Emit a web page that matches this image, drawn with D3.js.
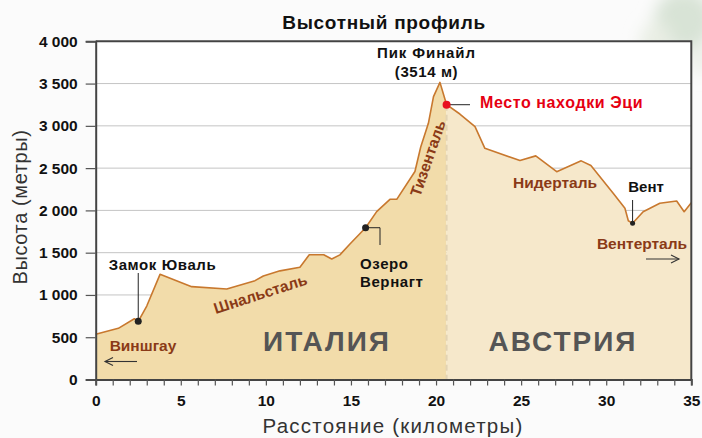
<!DOCTYPE html>
<html>
<head>
<meta charset="utf-8">
<script src="https://cdn.jsdelivr.net/npm/d3@7"></script>
<style>
  html, body { margin: 0; padding: 0; background: #fbfbfb; }
  svg { display: block; }
</style>
</head>
<body>
<svg id="chart" width="702" height="438"></svg>
<script>
// Elevation profile, Vinschgau -> Vent (km, metres)
const distanceKm = [0, 1.33, 2.27, 2.5, 3.0, 3.78, 5.64, 7.7, 9.36, 9.85, 10.83, 12.0, 12.55, 13.4, 13.87, 14.35, 14.94, 15.86, 16.51, 17.29, 17.69, 18.76, 19.1, 19.55, 19.85, 20.23, 20.62, 21.4, 22.29, 22.87, 24.93, 25.86, 27.09, 28.53, 29.1, 30.41, 31.1, 31.3, 31.55, 32.17, 33.15, 34.14, 34.58, 35];
const elevationM = [535, 605, 719, 688, 869, 1244, 1098, 1070, 1169, 1224, 1285, 1327, 1476, 1476, 1425, 1474, 1602, 1795, 1985, 2131, 2131, 2460, 2750, 3030, 3345, 3514, 3250, 3140, 2990, 2734, 2590, 2645, 2458, 2586, 2530, 2202, 2025, 1878, 1847, 1985, 2084, 2111, 1985, 2090];

// Border between Italy and Austria (km)
const borderKm = 20.62;

// Axis ticks
const yTickValues = [0, 500, 1000, 1500, 2000, 2500, 3000, 3500, 4000];
const yTickLabels = ["0", "500", "1 000", "1 500", "2 000", "2 500", "3 000", "3 500", "4 000"];
const xTickValues = [0, 5, 10, 15, 20, 25, 30, 35];
const xTickLabels = ["0", "5", "10", "15", "20", "25", "30", "35"];

// Point landmarks on the profile
const landmarkNames = ["Замок Юваль", "Озеро Вернагт", "Место находки Эци", "Вент"];
const landmarkKm = [2.5, 15.86, 20.62, 31.55];
const landmarkM = [688, 1795, 3250, 1847];

const font = "'Liberation Sans', Arial, sans-serif";
const brown = "#8a3a17";

const svg = d3.select("#chart");
const W = 702, H = 438;
const margin = { top: 41.3, right: 10.7, bottom: 58.5, left: 95.7 };

const x = d3.scaleLinear().domain([0, 35]).range([margin.left, W - margin.right]);
const y = d3.scaleLinear().domain([0, 4000]).range([H - margin.bottom, margin.top]);

const profile = distanceKm.map((d, i) => ({ km: d, m: elevationM[i] }));

// soft greenery in the top-right corner
const defs = svg.append("defs");
defs.append("filter").attr("id", "soft")
  .attr("x", "-50%").attr("y", "-50%").attr("width", "200%").attr("height", "200%")
  .append("feGaussianBlur").attr("stdDeviation", 8);
const blob = svg.append("g").attr("filter", "url(#soft)");
blob.append("ellipse").attr("cx", 684).attr("cy", 20).attr("rx", 30).attr("ry", 30).attr("fill", "#d8e3d6");
blob.append("ellipse").attr("cx", 656).attr("cy", 42).attr("rx", 16).attr("ry", 20).attr("fill", "#e9eee4");
blob.append("ellipse").attr("cx", 700).attr("cy", 60).attr("rx", 10).attr("ry", 14).attr("fill", "#eaeee6");

// plot background
svg.append("rect")
  .attr("x", margin.left).attr("y", margin.top)
  .attr("width", x(35) - x(0)).attr("height", y(0) - y(4000))
  .attr("fill", "#ffffff");

// gridlines
svg.append("g")
  .selectAll("line").data(yTickValues.slice(1, -1)).join("line")
  .attr("x1", x(0)).attr("x2", x(35))
  .attr("y1", d => y(d)).attr("y2", d => y(d))
  .attr("stroke", "#c4c4c4").attr("stroke-width", 1);

// filled terrain, split at the border
const area = d3.area().x(d => x(d.km)).y0(y(0)).y1(d => y(d.m));
defs.append("clipPath").attr("id", "clip-it").append("rect")
  .attr("x", x(0)).attr("y", 0).attr("width", x(borderKm) - x(0)).attr("height", H);
defs.append("clipPath").attr("id", "clip-at").append("rect")
  .attr("x", x(borderKm)).attr("y", 0).attr("width", x(35) - x(borderKm)).attr("height", H);

svg.append("path").datum(profile).attr("d", area)
  .attr("fill", "#f2dcaa").attr("clip-path", "url(#clip-it)");
svg.append("path").datum(profile).attr("d", area)
  .attr("fill", "#f6e8cb").attr("clip-path", "url(#clip-at)");

// border dashes
svg.append("line")
  .attr("x1", x(borderKm)).attr("x2", x(borderKm))
  .attr("y1", y(landmarkM[2])).attr("y2", y(0))
  .attr("stroke", "#e3d3b3").attr("stroke-width", 2).attr("stroke-dasharray", "6,4");

// profile line
svg.append("path").datum(profile)
  .attr("d", d3.line().x(d => x(d.km)).y(d => y(d.m)))
  .attr("fill", "none").attr("stroke", "#c8782e").attr("stroke-width", 1.6)
  .attr("stroke-linejoin", "round");

// frame: top and right edges
svg.append("path")
  .attr("d", `M${x(0)},${y(4000)}H${x(35)}V${y(0)}`)
  .attr("fill", "none").attr("stroke", "#444").attr("stroke-width", 2);

// y axis
const yAxis = svg.append("g").attr("transform", `translate(${x(0)},0)`)
  .call(d3.axisLeft(y).tickValues(yTickValues).tickSize(10).tickPadding(8)
    .tickFormat((d, i) => yTickLabels[i]));
yAxis.select(".domain").attr("stroke", "#444").attr("stroke-width", 2);
yAxis.selectAll(".tick line").attr("stroke", "#555").attr("stroke-width", 1.2);
yAxis.selectAll(".tick text").attr("font-family", font).attr("font-weight", "bold")
  .attr("font-size", 15.5).attr("fill", "#111");

// x axis: minor ticks every km, labels every 5 km
const xAxis = svg.append("g").attr("transform", `translate(0,${y(0)})`)
  .call(d3.axisBottom(x).tickValues(d3.range(0, 36, 1)).tickSize(6).tickPadding(6)
    .tickFormat(d => { const i = xTickValues.indexOf(d); return i >= 0 ? xTickLabels[i] : ""; }));
xAxis.select(".domain").attr("stroke", "#444").attr("stroke-width", 2);
xAxis.selectAll(".tick line").attr("stroke", "#555").attr("stroke-width", 1.2);
xAxis.selectAll(".tick text").attr("font-family", font).attr("font-weight", "bold")
  .attr("font-size", 15.5).attr("fill", "#111").attr("dy", "0.95em");

// titles
svg.append("text").attr("x", 384).attr("y", 29).attr("text-anchor", "middle")
  .attr("font-family", font).attr("font-weight", "bold").attr("font-size", 19)
  .attr("letter-spacing", 0.7).attr("fill", "#111")
  .text("Высотный профиль");
svg.append("text").attr("x", 393).attr("y", 433).attr("text-anchor", "middle")
  .attr("font-family", font).attr("font-size", 20.5).attr("letter-spacing", 1.2).attr("fill", "#333")
  .text("Расстояние (километры)");
svg.append("text").attr("transform", "translate(27,207) rotate(-90)").attr("text-anchor", "middle")
  .attr("font-family", font).attr("font-size", 20).attr("letter-spacing", 0.6).attr("fill", "#333")
  .text("Высота (метры)");

// country names
const countryStyle = sel => sel.attr("font-family", font).attr("font-weight", "bold")
  .attr("font-size", 28).attr("fill", "#555").attr("letter-spacing", 2).attr("text-anchor", "middle");
svg.append("text").attr("x", 327).attr("y", 351).call(countryStyle).text("ИТАЛИЯ");
svg.append("text").attr("x", 563).attr("y", 351).call(countryStyle).text("АВСТРИЯ");

// valley names
const valleyStyle = sel => sel.attr("font-family", font).attr("font-weight", "bold")
  .attr("font-size", 15.5).attr("fill", brown).attr("text-anchor", "middle");
svg.append("text").attr("x", 143).attr("y", 351).call(valleyStyle).text("Виншгау");
svg.append("text").attr("transform", "translate(262,299) rotate(-18)").call(valleyStyle).text("Шнальсталь");
svg.append("text").attr("transform", "translate(433,160) rotate(-71)").call(valleyStyle).text("Тизенталь");
svg.append("text").attr("x", 555).attr("y", 188).call(valleyStyle).text("Нидерталь");
svg.append("text").attr("x", 642).attr("y", 249).call(valleyStyle).text("Вентерталь");

// direction arrows
const arrow = (x1, x2, yy, dir) => {
  const g = svg.append("g").attr("stroke", "#333").attr("stroke-width", 1.1).attr("fill", "none");
  g.append("line").attr("x1", x1).attr("x2", x2).attr("y1", yy).attr("y2", yy);
  const tip = dir < 0 ? x1 : x2;
  g.append("path").attr("d", `M${tip - dir * 8},${yy - 4}L${tip},${yy}L${tip - dir * 8},${yy + 4}`);
};
arrow(105, 137, 361.5, -1);
arrow(646, 679, 259, 1);

// landmarks
const lm = landmarkKm.map((k, i) => ({ name: landmarkNames[i], km: k, m: landmarkM[i] }));
const labelStyle = sel => sel.attr("font-family", font).attr("font-weight", "bold")
  .attr("font-size", 15).attr("letter-spacing", 0.6).attr("fill", "#111");

// Castle Juval
svg.append("line").attr("x1", x(lm[0].km)).attr("x2", x(lm[0].km))
  .attr("y1", 273).attr("y2", y(lm[0].m)).attr("stroke", "#222").attr("stroke-width", 1);
svg.append("text").attr("x", 162.5).attr("y", 270).attr("text-anchor", "middle").call(labelStyle).text(lm[0].name);

// Lake Vernagt
svg.append("path").attr("d", `M${x(lm[1].km)},${y(lm[1].m)}H380V245`)
  .attr("fill", "none").attr("stroke", "#222").attr("stroke-width", 1);
svg.append("text").attr("x", 360).attr("y", 269).call(labelStyle).text("Озеро");
svg.append("text").attr("x", 360).attr("y", 287).call(labelStyle).text("Вернагт");

// Ötzi find site
svg.append("line").attr("x1", x(lm[2].km)).attr("x2", 470)
  .attr("y1", y(lm[2].m)).attr("y2", y(lm[2].m)).attr("stroke", "#222").attr("stroke-width", 1);
svg.append("text").attr("x", 480).attr("y", 108).call(labelStyle)
  .attr("fill", "#e60012").attr("font-size", 16).attr("letter-spacing", 0.6).text(lm[2].name);

// Vent
svg.append("line").attr("x1", x(lm[3].km)).attr("x2", x(lm[3].km))
  .attr("y1", 200).attr("y2", y(lm[3].m)).attr("stroke", "#222").attr("stroke-width", 1);
svg.append("text").attr("x", 646).attr("y", 192).attr("text-anchor", "middle").call(labelStyle)
  .attr("letter-spacing", 0).text(lm[3].name);

// dots
svg.append("g").selectAll("circle").data(lm).join("circle")
  .attr("cx", d => x(d.km)).attr("cy", d => y(d.m))
  .attr("r", (d, i) => i === 2 ? 4 : (i === 3 ? 2.5 : 3.5))
  .attr("fill", (d, i) => i === 2 ? "#e8101e" : "#222");

// summit label
const peakIdx = elevationM.indexOf(d3.max(elevationM));
svg.append("text").attr("x", 426.5).attr("y", 58).attr("text-anchor", "middle").call(labelStyle)
  .attr("letter-spacing", 0.9).text("Пик Финайл");
svg.append("text").attr("x", 426.5).attr("y", 77).attr("text-anchor", "middle").call(labelStyle)
  .text(`(${elevationM[peakIdx]} м)`);
</script>
</body>
</html>
